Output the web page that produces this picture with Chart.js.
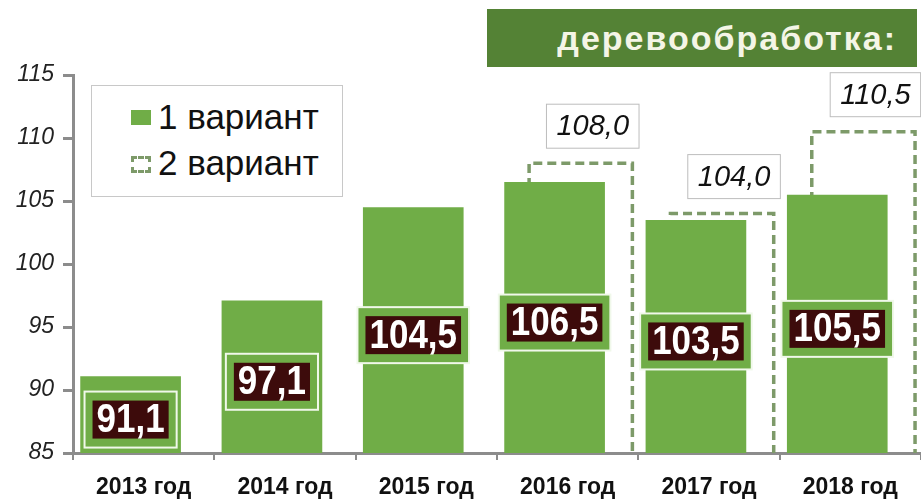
<!DOCTYPE html>
<html>
<head>
<meta charset="utf-8">
<script src="https://cdn.jsdelivr.net/npm/chart.js@4.4.1/dist/chart.umd.min.js"></script>
<style>
  html, body { margin: 0; padding: 0; background: #fff; }
  #wrap { position: relative; width: 921px; height: 500px; }
  #title {
    position: absolute; left: 487px; top: 9px; width: 430px; height: 58px;
    background: #548235; color: #f4f5e6;
    font: bold 34px 'Liberation Sans', Arial, sans-serif; letter-spacing: 2px;
    text-align: right; line-height: 58px; box-sizing: border-box; padding-right: 20px;
  }
  #legend {
    position: absolute; left: 91px; top: 85px; width: 252px; height: 112px;
    border: 1px solid #c8c8c8; background: #fff; box-sizing: border-box;
    font: 35px 'Liberation Sans', Arial, sans-serif; color: #111;
  }
  .item { position: absolute; left: 39px; height: 40px; line-height: 40px; white-space: nowrap; }
  .sw { position: absolute; left: 0; top: 13px; width: 20px; height: 15px; box-sizing: border-box; }
  .item span.t { position: absolute; left: 27px; top: 0; }
</style>
</head>
<body>
<div id="wrap">
  <canvas id="chart" width="921" height="500"></canvas>
  <div id="title">деревообработка:</div>
  <div id="legend"></div>
</div>
<script>
// chart data
const years = ['2013 год', '2014 год', '2015 год', '2016 год', '2017 год', '2018 год'];
const variant1 = [91.1, 97.1, 104.5, 106.5, 103.5, 105.5];
const variant2 = [null, null, null, 108.0, 104.0, 110.5];
const seriesNames = ['1 вариант', '2 вариант'];
const yTicks = [85, 90, 95, 100, 105, 110, 115];

const barGreen = '#70ad47';
const dashGreen = '#7d9a69';

function fmt(v) {
    return v.toFixed(1).replace('.', ',');
}

// dashed outline for variant 2 (drawn behind variant 1)
const dashedBars = {
    id: 'dashedBars',
    beforeDatasetDraw(chart, args) {
        if (args.index !== 1) return;
        const ctx = chart.ctx;
        const meta = chart.getDatasetMeta(1);
        const bottom = chart.chartArea.bottom;
        ctx.save();
        ctx.strokeStyle = dashGreen;
        ctx.lineWidth = 3.5;
        ctx.setLineDash([9, 5]);
        meta.data.forEach(function(bar, i) {
            if (variant2[i] == null) return;
            const p = bar.getProps(['x', 'y', 'width'], true);
            const l = p.x - p.width / 2, r = p.x + p.width / 2;
            ctx.beginPath();
            ctx.moveTo(l, bottom);
            ctx.lineTo(l, p.y);
            ctx.lineTo(r, p.y);
            ctx.lineTo(r, bottom);
            ctx.stroke();
        });
        ctx.restore();
    }
};

// value labels
const valueLabels = {
    id: 'valueLabels',
    afterDatasetsDraw(chart) {
        const ctx = chart.ctx;
        const bottom = chart.chartArea.bottom;
        ctx.save();
        ctx.textAlign = 'center';
        ctx.textBaseline = 'middle';

        // variant 1: white bold text inside the bar (tall, like the original)
        ctx.font = "bold 35px 'Liberation Sans', Arial, sans-serif";
        chart.getDatasetMeta(0).data.forEach(function(bar, i) {
            const p = bar.getProps(['x', 'y'], true);
            const txt = fmt(variant1[i]);
            const cx = p.x, cy = (p.y + bottom) / 2 + 5;
            const tw = ctx.measureText(txt).width;
            const bw = tw + 24, bh = 56;
            ctx.fillStyle = barGreen;
            ctx.fillRect(cx - bw / 2, cy - bh / 2, bw, bh);
            ctx.strokeStyle = '#f0f8ea';
            ctx.lineWidth = 2;
            ctx.strokeRect(cx - bw / 2, cy - bh / 2, bw, bh);
            ctx.fillStyle = '#3d0b0b';
            ctx.fillRect(cx - tw / 2 - 4, cy - 19, tw + 8, 38);
            ctx.fillStyle = '#ffffff';
            ctx.save();
            ctx.translate(cx, cy + 1);
            ctx.scale(1, 1.18);
            ctx.fillText(txt, 0, 0);
            ctx.restore();
        });

        // variant 2: italic text in a white box above the dashed bar
        ctx.font = "italic 29px 'Liberation Sans', Arial, sans-serif";
        chart.getDatasetMeta(1).data.forEach(function(bar, i) {
            if (variant2[i] == null) return;
            const p = bar.getProps(['x', 'y'], true);
            const txt = fmt(variant2[i]);
            const tw = ctx.measureText(txt).width;
            const bw = tw + 20, bh = 44;
            const cx = p.x + 12, cy = p.y - 15 - bh / 2;
            ctx.fillStyle = '#ffffff';
            ctx.fillRect(cx - bw / 2, cy - bh / 2, bw, bh);
            ctx.strokeStyle = '#bdbdbd';
            ctx.lineWidth = 1;
            ctx.strokeRect(cx - bw / 2, cy - bh / 2, bw, bh);
            ctx.fillStyle = '#111';
            ctx.fillText(txt, cx, cy + 1);
        });
        ctx.restore();
    }
};

const ctx = document.getElementById('chart').getContext('2d');
const chart = new Chart(ctx, {
    type: 'bar',
    data: {
        labels: years,
        datasets: [{
            label: seriesNames[0],
            data: variant1,
            backgroundColor: barGreen,
            borderWidth: 0,
            barPercentage: 3.85,
            categoryPercentage: 0.37
        }, {
            label: seriesNames[1],
            data: variant2,
            backgroundColor: 'rgba(0,0,0,0)',
            borderWidth: 0,
            barPercentage: 3.95,
            categoryPercentage: 0.37
        }]
    },
    options: {
        responsive: false,
        animation: false,
        layout: { padding: { top: 75, right: 0, left: 0, bottom: 0 } },
        plugins: {
            legend: { display: false },
            tooltip: { enabled: false }
        },
        scales: {
            x: {
                grid: {
                    offset: true,
                    drawOnChartArea: false,
                    color: '#8c8c8c',
                    lineWidth: 2,
                    tickLength: 7
                },
                border: { color: '#8c8c8c', width: 3 },
                ticks: {
                    color: '#111',
                    padding: 14,
                    font: { family: "'Liberation Sans', Arial, sans-serif", size: 23, weight: 'bold' }
                },
                afterFit(scale) { scale.height = 47; }
            },
            y: {
                min: 85,
                max: 115,
                afterBuildTicks(scale) {
                    scale.ticks = yTicks.map(function(v) { return { value: v }; });
                },
                grid: {
                    drawOnChartArea: false,
                    color: '#8c8c8c',
                    lineWidth: 3,
                    tickLength: 10
                },
                border: { color: '#8c8c8c', width: 3 },
                ticks: {
                    color: '#222',
                    padding: 9,
                    font: { family: "'Liberation Sans', Arial, sans-serif", size: 23, style: 'italic' }
                },
                afterFit(scale) { scale.width = 73; }
            }
        }
    },
    plugins: [dashedBars, valueLabels]
});

// html legend built from the datasets
const legend = document.getElementById('legend');
chart.data.datasets.forEach(function(ds, i) {
    const item = document.createElement('div');
    item.className = 'item';
    item.style.top = (i === 0 ? 11 : 57) + 'px';
    const sw = document.createElement('div');
    sw.className = 'sw';
    if (i === 0) {
        sw.style.background = barGreen;
    } else {
        sw.style.border = '3px dashed ' + dashGreen;
        sw.style.height = '17px';
    }
    const t = document.createElement('span');
    t.className = 't';
    t.textContent = ds.label;
    item.appendChild(sw);
    item.appendChild(t);
    legend.appendChild(item);
});
</script>
</body>
</html>
